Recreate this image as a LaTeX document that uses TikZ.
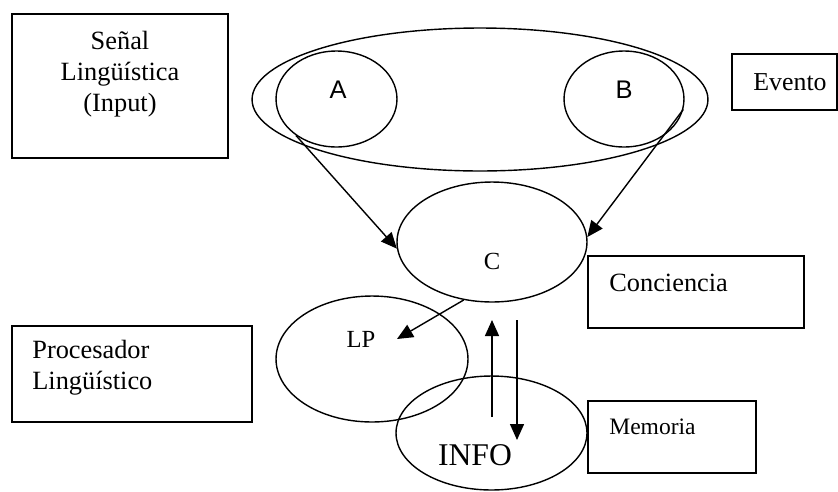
\documentclass[tikz,border=0pt]{standalone}
\usepackage{fontspec}
\setmainfont{Liberation Serif}
\setsansfont{Liberation Sans}
\usetikzlibrary{shapes.geometric,arrows.meta,positioning}

\begin{document}
\begin{tikzpicture}[
    x=0.02cm, y=-0.02cm,
    >={Triangle[length=3.2mm,width=2.8mm]},
    oval/.style={ellipse, draw, line width=0.8pt, inner sep=0pt},
    box/.style={rectangle, draw, line width=0.8pt, inner sep=0pt},
    txt/.style={inner sep=0pt, font=\fontsize{15}{17.6}\selectfont, align=center},
    lbl/.style={inner sep=0pt, font=\sffamily\fontsize{14.5}{17}\selectfont},
    flow/.style={->, line width=0.8pt}
]
    \useasboundingbox (0,0) rectangle (838,491);

    \node[box, minimum width=4.32cm, minimum height=2.88cm] (senal) at (120,86) {};
    \node[txt] (senaltxt) at (120,74) {Señal\\Lingüística\\(Input)};

    \node[oval, minimum width=9.12cm, minimum height=2.86cm] (evento) at (480,99.5) {};
    \node[oval, minimum width=2.42cm, minimum height=1.92cm] (A) at (336.5,99) {};
    \node[oval, minimum width=2.4cm, minimum height=1.92cm] (B) at (624,99) {};
    \node[lbl] (Alabel) at (338,90) {A};
    \node[lbl] (Blabel) at (624,90) {B};

    \node[box, minimum width=2.1cm, minimum height=1.12cm] (eventobox) at (784.5,82) {};
    \node[txt, font=\fontsize{14.7}{17}\selectfont] (eventotxt) at (790,82) {Evento};

    \node[oval, minimum width=3.8cm, minimum height=2.4cm] (C) at (492,242) {};
    \node[txt, font=\fontsize{14}{17}\selectfont] (Clabel) at (492,261) {C};

    \node[box, minimum width=4.32cm, minimum height=1.44cm] (concbox) at (696,292) {};
    \node[txt, anchor=west] (conctxt) at (609,283) {Conciencia};

    \node[oval, minimum width=3.84cm, minimum height=2.52cm] (LP) at (372,359) {};
    \node[txt, font=\fontsize{14}{17}\selectfont] (LPlabel) at (361,339) {LP};

    \node[box, minimum width=4.8cm, minimum height=1.92cm] (procbox) at (132,374) {};
    \node[txt, anchor=west, align=left] (proctxt) at (32,368) {Procesador\\Lingüístico};

    \node[oval, minimum width=3.82cm, minimum height=2.28cm] (INFO) at (491.5,433) {};
    \node[txt, font=\fontsize{18}{21}\selectfont] (INFOlabel) at (475,455) {INFO};

    \node[box, minimum width=3.36cm, minimum height=1.44cm] (memobox) at (672,437) {};
    \node[txt, anchor=west, font=\fontsize{13.4}{16}\selectfont] (memotxt) at (609,427) {Memoria};

    \coordinate (lpin) at (397,339);
    \coordinate (upfrom) at (492,417);
    \coordinate (upto) at (492,320);
    \coordinate (downfrom) at (517,320);
    \coordinate (downto) at (517,440);

    \draw[flow] (A.222) -- (C.184);
    \draw[flow] (B.-10) -- (C.3);
    \draw[flow] (C.244) -- (lpin);
    \draw[flow] (upfrom) -- (upto);
    \draw[flow] (downfrom) -- (downto);
\end{tikzpicture}
\end{document}
